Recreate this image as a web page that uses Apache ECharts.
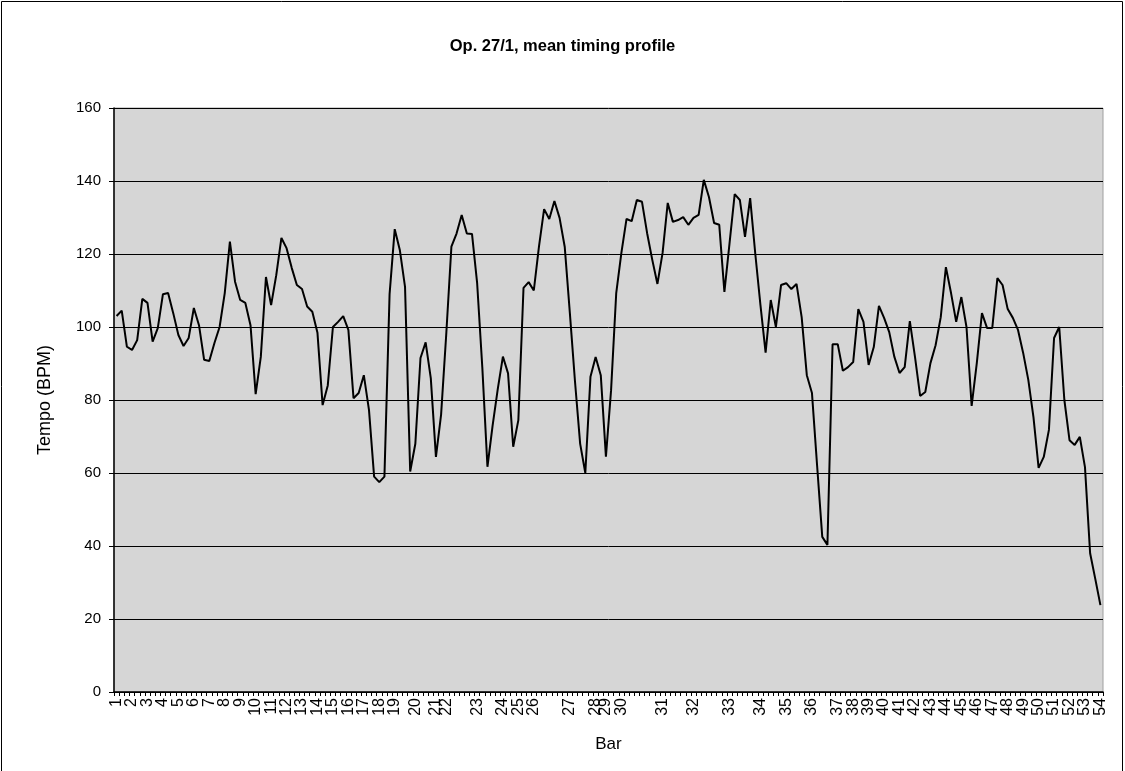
<!DOCTYPE html>
<html>
<head>
<meta charset="utf-8">
<script src="https://cdn.jsdelivr.net/npm/echarts@6/dist/echarts.min.js"></script>
<style>
html,body{margin:0;padding:0;background:#fff;}
#c{width:1125px;height:771px;}
</style>
</head>
<body>
<div id="c"></div>
<script>
// Tempo (BPM) per beat
const tempo = [
103,104.5,94.6,93.7,96.4,107.7,106.6,96,99.7,109,
109.3,103.8,97.8,94.8,97,105.2,100.5,91,90.7,95.6,
100,109.3,123.4,112.4,107.4,106.6,100.5,81.6,91.8,113.7,
106,114.2,124.4,121.6,116.2,111.5,110.4,105.6,104.2,98.4,
78.6,84,100,101.4,103,99.2,80.5,81.9,86.8,77.3,
59,57.5,59,109,126.8,121,111,60.4,68,91.5,
95.8,86,64.4,76,98,122,125.6,130.7,125.6,125.5,
112,89,61.7,73,83,91.9,87.3,67.2,74.5,110.7,
112.3,110,122,132.3,129.6,134.5,129.9,122,103.8,85,
68,60,86.4,91.8,86.8,64.5,82.7,109.3,120.3,129.6,
129,134.8,134.3,125.7,118.4,111.8,120.3,134,128.8,129.3,
130.1,128,129.9,130.7,140.3,135.6,128.5,128,109.6,123,
136.4,134.8,124.7,135.3,120,106,93,107.4,100,111.5,
112,110.4,111.8,102.7,86.8,81.9,62,42.5,40.3,95.3,
95.3,88,89,90.4,104.9,101.4,89.6,94.5,105.8,102.5,
98.6,91.8,87.4,89,101.6,91.8,81.1,82.2,90.1,95,
102.7,116.4,109.3,101.4,108.2,100,78.4,90.1,103.8,99.7,
99.7,113.4,111.5,104.9,102.5,99.2,92.9,85.5,75.3,61.4,
64.4,71.8,97,100,80,69,67.7,69.9,61.6,38,
31,23.8
];
// Bar numbers and the beat index where each bar starts
const barNumbers = [];
for (let b = 1; b <= 54; b++) barNumbers.push(String(b));
const barStartIndex = [
0,3,6,9,12,15,18,21,24,27,
30,33,36,39,42,45,48,51,54,58,
62,64,70,75,78,81,88,93,95,98,
106,112,119,125,130,135,140,143,146,149,
152,155,158,161,164,167,170,173,176,179,
182,185,188,191
];
const yTicks = {min: 0, max: 160, interval: 20};

const categories = tempo.map(() => '');
barStartIndex.forEach((idx, i) => { categories[idx] = barNumbers[i]; });

const chart = echarts.init(document.getElementById('c'), null, {renderer: 'canvas'});
const font = 'Liberation Sans, Arial, sans-serif';
chart.setOption({
  animation: false,
  backgroundColor: '#ffffff',
  title: {
    text: 'Op. 27/1, mean timing profile',
    left: 'center',
    top: 33,
    textStyle: {fontFamily: font, fontSize: 16.5, fontWeight: 'bold', color: '#000'}
  },
  graphic: [{
    type: 'rect',
    shape: {x: 1.5, y: 1.5, width: 1121, height: 780},
    style: {fill: 'none', stroke: '#000', lineWidth: 1},
    silent: true
  }],
  grid: {
    left: 114, right: 22, top: 108, bottom: 79,
    show: true, backgroundColor: '#d6d6d6', borderColor: '#a0a0a0', borderWidth: 1
  },
  xAxis: {
    type: 'category',
    data: categories,
    boundaryGap: true,
    name: 'Bar',
    nameLocation: 'middle',
    nameGap: 44,
    nameTextStyle: {fontFamily: font, fontSize: 17, color: '#000'},
    axisLine: {lineStyle: {color: '#000', width: 1.5}},
    axisTick: {show: true, interval: 0, length: 4, lineStyle: {color: '#000'}},
    axisLabel: {interval: 0, rotate: 90, fontFamily: font, fontSize: 16, color: '#000', margin: 6},
    splitLine: {show: false}
  },
  yAxis: {
    type: 'value',
    min: yTicks.min, max: yTicks.max, interval: yTicks.interval,
    name: 'Tempo (BPM)',
    nameLocation: 'middle',
    nameGap: 60,
    nameRotate: 90,
    nameTextStyle: {fontFamily: font, fontSize: 18, color: '#000'},
    axisLine: {show: true, lineStyle: {color: '#000', width: 1.5}},
    axisTick: {show: true, length: 5, lineStyle: {color: '#000'}},
    axisLabel: {fontFamily: font, fontSize: 15, color: '#000', margin: 13},
    splitLine: {show: true, lineStyle: {color: '#000', width: 1}}
  },
  series: [{
    type: 'line',
    data: tempo,
    showSymbol: false,
    symbol: 'none',
    lineStyle: {color: '#000', width: 2},
    silent: true
  }]
});
</script>
</body>
</html>
